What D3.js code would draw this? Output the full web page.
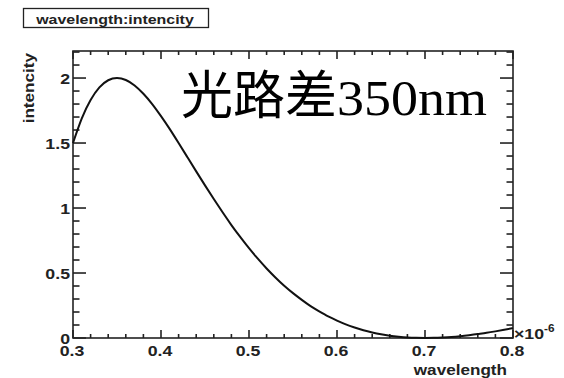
<!DOCTYPE html>
<html>
<head>
<meta charset="utf-8">
<script src="https://cdn.jsdelivr.net/npm/d3@7"></script>
<style>
  html, body { margin: 0; padding: 0; background: #fff; }
  svg { display: block; }
</style>
</head>
<body>
<svg id="chart" width="564" height="378"></svg>
<script>
// wavelength (×10^-6 m) and measured intensity
const wavelength = [0.30,0.31,0.32,0.33,0.34,0.35,0.36,0.37,0.38,0.39,
  0.40,0.41,0.42,0.43,0.44,0.45,0.46,0.47,0.48,0.49,
  0.50,0.51,0.52,0.53,0.54,0.55,0.56,0.57,0.58,0.59,
  0.60,0.61,0.62,0.63,0.64,0.65,0.66,0.67,0.68,0.69,
  0.70,0.71,0.72,0.73,0.74,0.75,0.76,0.77,0.78,0.79,0.80];
const intencity = [1.500,1.689,1.831,1.928,1.983,2.000,1.985,1.943,1.879,1.800,
  1.707,1.607,1.500,1.391,1.282,1.174,1.069,0.967,0.869,0.778,
  0.691,0.610,0.535,0.466,0.402,0.345,0.293,0.245,0.204,0.166,
  0.134,0.105,0.081,0.060,0.043,0.029,0.018,0.010,0.004,0.001,
  0.000,0.001,0.004,0.008,0.014,0.022,0.031,0.040,0.051,0.063,0.076];
const xTickLabels = ["0.3","0.4","0.5","0.6","0.7","0.8"];
const yTickLabels = ["0","0.5","1","1.5","2"];
const titleText = "wavelength:intencity";
const annotationCJK = "光路差";
const annotationNum = "350nm";

const svg = d3.select("#chart");
const L = 73, R = 513, T = 51, B = 338;
const x = d3.scaleLinear().domain([0.3, 0.8]).range([L, R]);
const y = d3.scaleLinear().domain([0, 2.208]).range([B, T]);
const labelFont = "'Liberation Sans', Arial, sans-serif";
const WIDEN = 1.18;

// widen sans labels horizontally
function widen(sel, k = WIDEN) {
  sel.each(function () {
    const w = this.getComputedTextLength();
    d3.select(this).attr("textLength", w * k).attr("lengthAdjust", "spacingAndGlyphs");
  });
  return sel;
}

// frame
svg.append("rect").attr("x", L).attr("y", T).attr("width", R - L).attr("height", B - T)
  .attr("fill", "none").attr("stroke", "#222").attr("stroke-width", 1.6);

// ticks on all four sides, pointing inward
const xMajor = xTickLabels.map(Number);
const xMinor = d3.range(0.30, 0.8001, 0.02).filter(v => !xMajor.some(m => Math.abs(m - v) < 1e-6));
const yMajor = yTickLabels.map(Number);
const yMinor = d3.range(0, 2.2001, 0.1).filter(v => !yMajor.some(m => Math.abs(m - v) < 1e-6));
const tk = svg.append("g").attr("stroke", "#222").attr("stroke-width", 1.6);
function xt(vals, len) {
  vals.forEach(v => {
    tk.append("line").attr("x1", x(v)).attr("x2", x(v)).attr("y1", B).attr("y2", B - len);
    tk.append("line").attr("x1", x(v)).attr("x2", x(v)).attr("y1", T).attr("y2", T + len);
  });
}
function yt(vals, len) {
  vals.forEach(v => {
    tk.append("line").attr("y1", y(v)).attr("y2", y(v)).attr("x1", L).attr("x2", L + len);
    tk.append("line").attr("y1", y(v)).attr("y2", y(v)).attr("x1", R).attr("x2", R - len);
  });
}
xt(xMajor, 8); xt(xMinor, 4);
yt(yMajor, 13); yt(yMinor, 6.5);

// tick labels
widen(svg.append("g").selectAll("text").data(xTickLabels).join("text")
  .attr("x", d => x(+d) - 1).attr("y", B + 18).attr("text-anchor", "middle")
  .attr("font-family", labelFont).attr("font-weight", "bold").attr("font-size", 15)
  .attr("fill", "#222").text(d => d));
widen(svg.append("g").selectAll("text").data(yTickLabels).join("text")
  .attr("x", L - 3).attr("y", d => y(+d) + 5.5).attr("text-anchor", "end")
  .attr("font-family", labelFont).attr("font-weight", "bold").attr("font-size", 15)
  .attr("fill", "#222").text(d => d));

// exponent
const ex = svg.append("text").attr("x", R + 1).attr("y", B + 1)
  .attr("font-family", labelFont).attr("font-weight", "bold").attr("fill", "#222");
ex.append("tspan").attr("font-size", 15).text("×10");
ex.append("tspan").attr("font-size", 10).attr("dy", -7).text("-6");
widen(ex);

// axis titles
widen(svg.append("text").attr("x", R - 6).attr("y", 375).attr("text-anchor", "end")
  .attr("font-family", labelFont).attr("font-weight", "bold").attr("font-size", 14.5)
  .attr("fill", "#222").text("wavelength"));
widen(svg.append("text").attr("transform", `translate(34,${T + 2}) rotate(-90)`).attr("text-anchor", "end")
  .attr("font-family", labelFont).attr("font-weight", "bold").attr("font-size", 14.5)
  .attr("fill", "#222").text("intencity"));

// title box
svg.append("rect").attr("x", 23.5).attr("y", 8.5).attr("width", 185).attr("height", 19)
  .attr("fill", "#fff").attr("stroke", "#222").attr("stroke-width", 1.3);
widen(svg.append("text").attr("x", 115).attr("y", 23.5).attr("text-anchor", "middle")
  .attr("font-family", labelFont).attr("font-weight", "bold").attr("font-size", 13.5)
  .attr("fill", "#222").text(titleText));

// curve
const line = d3.line().x((d, i) => x(wavelength[i])).y(d => y(d)).curve(d3.curveNatural);
svg.append("path").datum(intencity).attr("d", line)
  .attr("fill", "none").attr("stroke", "#111").attr("stroke-width", 2);

// annotation
svg.append("text").attr("x", 181).attr("y", 114).attr("font-size", 52)
  .attr("font-family", "'Noto Sans CJK SC', sans-serif").attr("fill", "#000").text(annotationCJK);
svg.append("text").attr("x", 337).attr("y", 115).attr("font-size", 51)
  .attr("font-family", "'Liberation Serif', 'Times New Roman', serif").attr("fill", "#000")
  .attr("textLength", 150).attr("lengthAdjust", "spacingAndGlyphs").text(annotationNum);
</script>
</body>
</html>
